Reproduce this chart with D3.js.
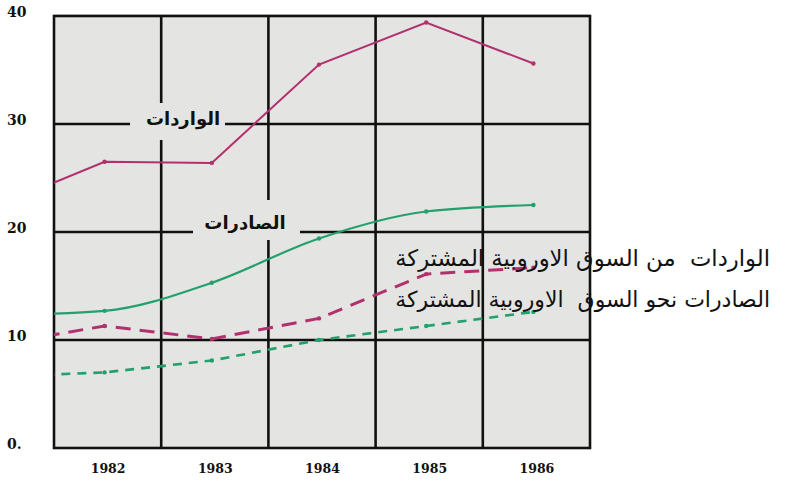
<!DOCTYPE html>
<html><head><meta charset="utf-8">
<script src="https://cdn.jsdelivr.net/npm/d3@7"></script>
<style>body{margin:0;background:#fff;}svg{display:block;}</style>
</head><body>
<svg id="c" width="799" height="482"></svg>
<script>
// ---- data ----
const years = [1981, 1982, 1983, 1984, 1985, 1986];
const importsTotal = [22.4, 26.5, 26.4, 35.5, 39.4, 35.6];
const exportsTotal = [12.3, 12.7, 15.3, 19.4, 21.9, 22.5];
const importsEEC = [9.6, 11.3, 10.1, 12.0, 16.1, 16.7];
const exportsEEC = [6.6, 7.0, 8.1, 10.0, 11.3, 12.6];
const yearLabels = ["1982", "1983", "1984", "1985", "1986"];
const yTicks = [0, 10, 20, 30, 40];
const yTickLabels = ["0.", "10", "20", "30", "40"];
const importsLabel = "الواردات";
const exportsLabel = "الصادرات";
const legendImports = "الواردات  من السوق الاوروبية المشتركة";
const legendExports = "الصادرات نحو السوق  الاوروبية المشتركة";

const svg = d3.select("#c");
const L = 54, R = 590, T = 16, B = 448;
const x = d3.scaleLinear().domain([1981.5, 1986.5]).range([L, R]);
const y = d3.scaleLinear().domain([0, 40]).range([B, T]);

const magenta = "#b3306e", green = "#23a06c";

// background
svg.append("rect").attr("x", L).attr("y", T - 2).attr("width", R - L).attr("height", B - T + 2)
  .attr("fill", "#e4e4e2");

// grid
const gridY = [10, 20, 30];
const gridX = [1982.5, 1983.5, 1984.5, 1985.5];
svg.append("g").selectAll("line").data(gridY).join("line")
  .attr("x1", L).attr("x2", R).attr("y1", d => y(d)).attr("y2", d => y(d))
  .attr("stroke", "#111").attr("stroke-width", 2.6);
svg.append("g").selectAll("line").data(gridX).join("line")
  .attr("x1", d => x(d)).attr("x2", d => x(d)).attr("y1", T).attr("y2", B)
  .attr("stroke", "#111").attr("stroke-width", 2.6);
// frame
svg.append("rect").attr("x", L).attr("y", T).attr("width", R - L).attr("height", B - T)
  .attr("fill", "none").attr("stroke", "#111").attr("stroke-width", 2.6);

// label boxes over grid
const boxes = [
  {text: importsLabel, x0: 130, x1: 225, y0: 103, y1: 140, cx: 183, cy: 118},
  {text: exportsLabel, x0: 193, x1: 300, y0: 200, y1: 240, cx: 245, cy: 222}
];
svg.append("g").selectAll("rect").data(boxes).join("rect")
  .attr("x", d => d.x0).attr("y", d => d.y0).attr("width", d => d.x1 - d.x0).attr("height", d => d.y1 - d.y0)
  .attr("fill", "#e4e4e2");
svg.append("g").selectAll("text").data(boxes).join("text")
  .attr("x", d => d.cx).attr("y", d => d.cy).attr("text-anchor", "middle")
  .attr("dominant-baseline", "central")
  .attr("font-family", "DejaVu Sans").attr("font-weight", "bold").attr("font-size", 18)
  .attr("fill", "#111").text(d => d.text);

// clip
svg.append("clipPath").attr("id", "clip").append("rect")
  .attr("x", L).attr("y", T).attr("width", R - L).attr("height", B - T);

const series = [
  {vals: importsTotal, color: magenta, width: 2, dash: null, curve: d3.curveLinear},
  {vals: exportsTotal, color: green, width: 2.2, dash: null, curve: d3.curveMonotoneX},
  {vals: importsEEC, color: magenta, width: 3, dash: "15,9", curve: d3.curveLinear},
  {vals: exportsEEC, color: green, width: 2.6, dash: "9,7", curve: d3.curveLinear}
];
const lines = svg.append("g").attr("clip-path", "url(#clip)")
  .append("g").attr("transform", "translate(-3,0)");
series.forEach(s => {
  const pts = years.map((yr, i) => [yr, s.vals[i]]);
  const gen = d3.line().x(d => x(d[0])).y(d => y(d[1])).curve(s.curve);
  lines.append("path").attr("d", gen(pts)).attr("fill", "none")
    .attr("stroke", s.color).attr("stroke-width", s.width)
    .attr("stroke-dasharray", s.dash);
  lines.append("g").selectAll("circle").data(pts.slice(1)).join("circle")
    .attr("cx", d => x(d[0])).attr("cy", d => y(d[1])).attr("r", 2.2)
    .attr("fill", s.color);
});

// y axis labels
const yAxis = d3.axisLeft(y).tickValues(yTicks).tickSize(0)
  .tickFormat((d, i) => yTickLabels[i]);
const ya = svg.append("g").attr("transform", "translate(7,-4)").call(yAxis);
ya.select(".domain").remove();
ya.selectAll("text").attr("x", 0).attr("text-anchor", "start")
  .attr("font-family", "DejaVu Serif").attr("font-weight", "bold").attr("font-size", 14)
  .attr("fill", "#111");

// x axis labels
const xAxis = d3.axisBottom(x).tickValues(yearLabels.map(Number)).tickSize(0)
  .tickFormat((d, i) => yearLabels[i]);
const xa = svg.append("g").attr("transform", `translate(0,${B + 13})`).call(xAxis);
xa.select(".domain").remove();
xa.selectAll("text").attr("font-family", "DejaVu Serif").attr("font-weight", "bold")
  .attr("font-size", 12.5).attr("fill", "#111");

// legend texts on right
const legend = [
  {text: legendImports, yy: 258, target: 375},
  {text: legendExports, yy: 299, target: 375}
];
legend.forEach(l => {
  const t = svg.append("text").attr("x", 770).attr("y", l.yy)
    .attr("text-anchor", "end").attr("dominant-baseline", "central")
    .attr("font-family", "DejaVu Sans").attr("font-size", 17)
    .style("white-space", "pre").attr("fill", "#111").text(l.text);
  const w = t.node().getComputedTextLength();
  t.attr("font-size", 17 * l.target / w);
});
</script>
</body></html>
